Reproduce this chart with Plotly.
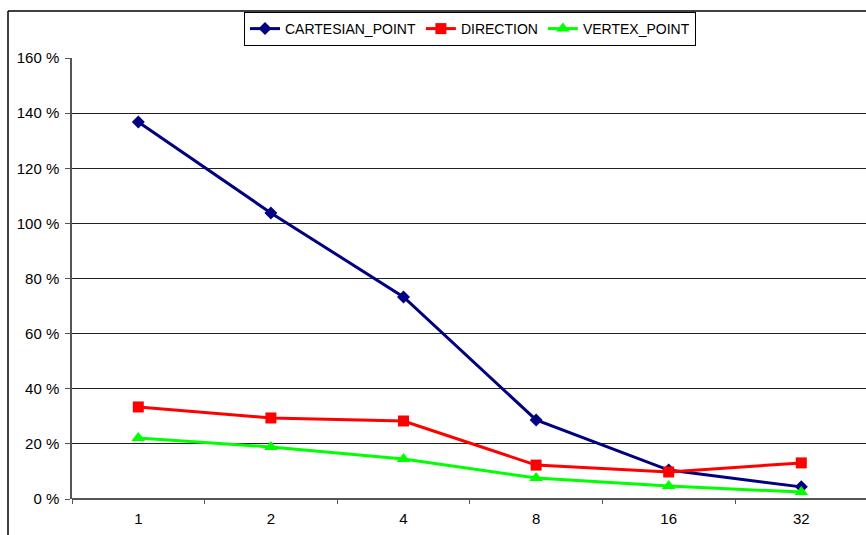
import plotly.graph_objects as go

# Category labels on the x axis
categories = ["1", "2", "4", "8", "16", "32"]

# Series values, in percent
cartesian_point = [136.8, 103.8, 73.3, 28.7, 10.5, 4.4]
direction = [33.4, 29.4, 28.3, 12.3, 9.8, 13.1]
vertex_point = [22.1, 18.9, 14.5, 7.6, 4.7, 2.5]

# Y axis ticks
y_ticks = [0, 20, 40, 60, 80, 100, 120, 140, 160]
y_tick_text = [f"{v} %" for v in y_ticks]

W, H = 866, 535
ML, MT, MB, MR = 72, 58, 36, 0
plot_w = W - ML - MR
plot_h = H - MT - MB

fig = go.Figure()

fig.add_trace(go.Scatter(
    x=categories, y=cartesian_point, name="CARTESIAN_POINT",
    mode="lines+markers",
    line=dict(color="#000080", width=3),
    marker=dict(symbol="diamond", size=10, color="#000080"),
))
fig.add_trace(go.Scatter(
    x=categories, y=direction, name="DIRECTION",
    mode="lines+markers",
    line=dict(color="#FF0000", width=3),
    marker=dict(symbol="square", size=11, color="#FF0000"),
))
fig.add_trace(go.Scatter(
    x=categories, y=vertex_point, name="VERTEX_POINT",
    mode="lines+markers",
    line=dict(color="#00FF00", width=3),
    marker=dict(symbol="triangle-up", size=12, color="#00FF00"),
))

# Outer chart frame (left and top edges)
fx = (8 - ML) / plot_w
fy = (H - MB - 11) / plot_h
fig.add_shape(type="line", xref="paper", yref="paper",
              x0=fx, x1=fx, y0=-0.2, y1=fy,
              line=dict(color="black", width=1.5))
fig.add_shape(type="line", xref="paper", yref="paper",
              x0=fx, x1=1.05, y0=fy, y1=fy,
              line=dict(color="black", width=1.5))

fig.update_layout(
    width=W, height=H,
    margin=dict(l=ML, r=MR, t=MT, b=MB, pad=0),
    paper_bgcolor="white", plot_bgcolor="white",
    font=dict(family="Liberation Sans, Arial, sans-serif", size=15, color="black"),
    showlegend=True,
    legend=dict(
        orientation="h",
        x=(470 - ML) / plot_w, xanchor="center",
        y=(H - MB - 12) / plot_h, yanchor="top",
        bordercolor="black", borderwidth=1,
        bgcolor="white",
        font=dict(size=14),
        itemwidth=30,
        tracegroupgap=0,
    ),
    xaxis=dict(
        type="category",
        range=[-0.5, -0.5 + plot_w / 132.6],
        tickson="boundaries",
        ticks="outside", ticklen=4, tickcolor="#555",
        ticklabelstandoff=9,
        showgrid=False,
        showline=False,
        zeroline=False,
        tickfont=dict(size=15),
    ),
    yaxis=dict(
        range=[0, 160],
        tickmode="array",
        tickvals=y_ticks,
        ticktext=y_tick_text,
        ticks="outside", ticklen=5, tickcolor="#555",
        ticklabelstandoff=3,
        showgrid=True, gridcolor="#222", gridwidth=1,
        showline=True, linecolor="#555", linewidth=1.5,
        zeroline=True, zerolinecolor="#555", zerolinewidth=2,
        tickfont=dict(size=15),
    ),
)

fig.write_html("out.html")
